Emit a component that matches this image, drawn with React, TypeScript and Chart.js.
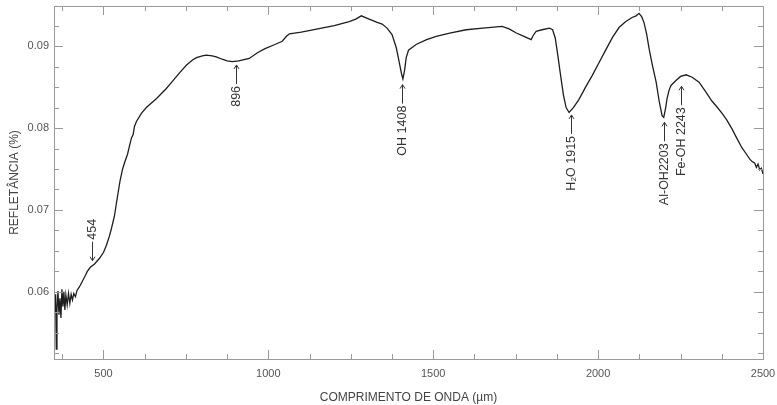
import React, { useEffect, useRef } from 'react';
import { Chart, registerables } from 'chart.js';

Chart.register(...registerables);

const wavelengths = [
  350, 353, 355, 357, 359, 362, 365, 368, 371, 374, 377, 380, 383, 386, 390, 394, 398, 402, 406, 410,
  415, 420, 427, 436, 445, 451, 460, 473, 488, 500, 509, 518, 524, 533, 540, 550, 558, 566, 573, 580,
  585, 590, 594, 600, 615, 630, 661, 690, 709, 730, 752, 770, 782, 800, 812, 830, 842, 860, 875, 891,
  910, 942, 967, 990, 1020, 1042, 1055, 1064, 1100, 1150, 1200, 1245, 1265, 1282, 1300, 1330, 1345, 1360, 1375, 1388,
  1398, 1404, 1408, 1413, 1418, 1425, 1448, 1480, 1509, 1550, 1600, 1650, 1709, 1730, 1752, 1775, 1797, 1803, 1812, 1830,
  1852, 1862, 1870, 1878, 1886, 1895, 1903, 1912, 1925, 1942, 1962, 1982, 2003, 2024, 2044, 2064, 2084, 2103, 2115, 2124,
  2132, 2139, 2147, 2155, 2165, 2176, 2185, 2194, 2199, 2205, 2209, 2215, 2221, 2236, 2250, 2267, 2285, 2306, 2325, 2345,
  2360, 2376, 2390, 2406, 2420, 2436, 2450, 2460, 2467, 2475, 2480, 2485, 2490, 2495, 2500,
];

const reflectance = [
  0.0590, 0.0575, 0.0597, 0.0530, 0.0578, 0.0601, 0.0572, 0.0592, 0.0568, 0.0603, 0.0582, 0.0600, 0.0578, 0.0596, 0.0584, 0.0598, 0.0586, 0.0597, 0.0590, 0.0598,
  0.0594, 0.0602, 0.0606, 0.0613, 0.0620, 0.0625, 0.0630, 0.0634, 0.0641, 0.0648, 0.0657, 0.0668, 0.0677, 0.0692, 0.0710, 0.0735, 0.0750, 0.0760, 0.0768, 0.0780,
  0.0788, 0.0792, 0.0802, 0.0808, 0.0818, 0.0825, 0.0836, 0.0848, 0.0857, 0.0867, 0.0877, 0.0883, 0.0886, 0.0888, 0.0889, 0.0888, 0.0887, 0.0884, 0.0882, 0.0881,
  0.0882, 0.0885, 0.0892, 0.0897, 0.0902, 0.0906, 0.0912, 0.0915, 0.0917, 0.0921, 0.0925, 0.0930, 0.0933, 0.0937, 0.0934, 0.0929, 0.0927, 0.0922, 0.0914, 0.0898,
  0.0878, 0.0866, 0.0860, 0.0870, 0.0886, 0.0895, 0.0902, 0.0908, 0.0912, 0.0916, 0.0920, 0.0922, 0.0924, 0.0921, 0.0916, 0.0912, 0.0908, 0.0913, 0.0918, 0.0920,
  0.0922, 0.0920, 0.0910, 0.0888, 0.0865, 0.0840, 0.0825, 0.0819, 0.0825, 0.0835, 0.0850, 0.0864, 0.0880, 0.0896, 0.0911, 0.0923, 0.0930, 0.0935, 0.0937, 0.0940,
  0.0936, 0.0929, 0.0915, 0.0896, 0.0876, 0.0856, 0.0833, 0.0815, 0.0813, 0.0825, 0.0836, 0.0846, 0.0852, 0.0858, 0.0863, 0.0865, 0.0862, 0.0856, 0.0845, 0.0833,
  0.0826, 0.0818, 0.0810, 0.0799, 0.0788, 0.0776, 0.0768, 0.0762, 0.0759, 0.0757, 0.0752, 0.0756, 0.0749, 0.0751, 0.0744,
];

const xMajorTicks = [500, 1000, 1500, 2000, 2500];
const xMinorTicks = [375, 625, 750, 875, 1125, 1250, 1375, 1625, 1750, 1875, 2125, 2250, 2375];
const yMajorTicks = [0.06, 0.07, 0.08, 0.09];
const yMinorTicks = [0.0525, 0.055, 0.0575, 0.0625, 0.065, 0.0675, 0.0725, 0.075, 0.0775, 0.0825, 0.085, 0.0875, 0.0925];

const annotationLabels = ['454', '896', 'OH 1408', 'H\u2082O 1915', 'Al-OH2203', 'Fe-OH 2243'];
const annotationX = [464, 903, 1406, 1918, 2200, 2252];
const annotationY = [0.0638, 0.0877, 0.0853, 0.0816, 0.0807, 0.0851];
const annotationPointsDown = [true, false, false, false, false, false];

const FONT = '"Liberation Sans", Arial, sans-serif';

const framePlugin = {
  id: 'frameTicks',
  afterDraw(chart: any) {
    const { ctx, chartArea } = chart;
    const xs = chart.scales.x;
    const ys = chart.scales.y;
    const { left, right, top, bottom } = chartArea;
    ctx.save();
    ctx.strokeStyle = '#9a9a9a';
    ctx.lineWidth = 1;
    ctx.strokeRect(left + 0.5, top + 0.5, right - left, bottom - top);
    const drawX = (v: number, len: number) => {
      const p = Math.round(xs.getPixelForValue(v)) + 0.5;
      ctx.beginPath();
      ctx.moveTo(p, bottom);
      ctx.lineTo(p, bottom - len);
      ctx.moveTo(p, top);
      ctx.lineTo(p, top + len);
      ctx.stroke();
    };
    const drawY = (v: number, len: number) => {
      const p = Math.round(ys.getPixelForValue(v)) + 0.5;
      ctx.beginPath();
      ctx.moveTo(left, p);
      ctx.lineTo(left + len, p);
      ctx.moveTo(right, p);
      ctx.lineTo(right - len, p);
      ctx.stroke();
    };
    xMajorTicks.forEach((v) => drawX(v, 9));
    xMinorTicks.forEach((v) => drawX(v, 5));
    yMajorTicks.forEach((v) => drawY(v, 9));
    yMinorTicks.forEach((v) => drawY(v, 5));
    ctx.restore();
  },
};

const annotatePlugin = {
  id: 'bandLabels',
  afterDatasetsDraw(chart: any) {
    const ctx = chart.ctx;
    const xs = chart.scales.x;
    const ys = chart.scales.y;
    ctx.save();
    ctx.font = '12.5px ' + FONT;
    ctx.fillStyle = '#333';
    ctx.strokeStyle = '#333';
    ctx.lineWidth = 1;
    annotationLabels.forEach((label, i) => {
      const px = xs.getPixelForValue(annotationX[i]);
      const py = ys.getPixelForValue(annotationY[i]);
      ctx.save();
      ctx.translate(Math.round(px) + 0.5, py);
      ctx.rotate(-Math.PI / 2);
      const L = 19;
      ctx.beginPath();
      ctx.textBaseline = 'middle';
      if (annotationPointsDown[i]) {
        ctx.moveTo(0, 0);
        ctx.lineTo(L, 0);
        ctx.moveTo(0, 0);
        ctx.lineTo(4, -2.5);
        ctx.moveTo(0, 0);
        ctx.lineTo(4, 2.5);
        ctx.stroke();
        ctx.textAlign = 'left';
        ctx.fillText(label, L + 2, 0);
      } else {
        ctx.moveTo(0, 0);
        ctx.lineTo(-L, 0);
        ctx.moveTo(0, 0);
        ctx.lineTo(-4, -2.5);
        ctx.moveTo(0, 0);
        ctx.lineTo(-4, 2.5);
        ctx.stroke();
        ctx.textAlign = 'right';
        ctx.fillText(label, -L - 2, 0);
      }
      ctx.restore();
    });
    ctx.restore();
  },
};

export default function App() {
  const canvasRef = useRef<HTMLCanvasElement | null>(null);

  useEffect(() => {
    document.body.style.margin = '0';
    const canvas = canvasRef.current;
    if (!canvas) return;
    const chart = new Chart(canvas, {
      type: 'line',
      data: {
        datasets: [
          {
            data: wavelengths.map((w, i) => ({ x: w, y: reflectance[i] })),
            borderColor: '#1e1e1e',
            borderWidth: 1.3,
            pointRadius: 0,
            tension: 0,
            fill: false,
          },
        ],
      },
      options: {
        animation: false,
        responsive: false,
        maintainAspectRatio: false,
        devicePixelRatio: 1,
        layout: { padding: { top: 6, right: 14, left: 0, bottom: 0 } },
        plugins: { legend: { display: false }, tooltip: { enabled: false } },
        scales: {
          x: {
            type: 'linear',
            min: 350,
            max: 2500,
            grid: { display: false, drawTicks: false },
            border: { display: false },
            afterBuildTicks: (scale: any) => {
              scale.ticks = xMajorTicks.map((v) => ({ value: v }));
            },
            afterFit: (scale: any) => {
              scale.height = 46;
              scale.paddingLeft = 0;
              scale.paddingRight = 0;
            },
            ticks: {
              color: '#555',
              font: { family: FONT, size: 11 },
              padding: 8,
              maxRotation: 0,
              callback: (v: any) => String(v),
            },
            title: {
              display: true,
              text: 'COMPRIMENTO DE ONDA (\u00b5m)',
              color: '#444',
              font: { family: FONT, size: 12 },
              padding: { top: 5, bottom: 0 },
            },
          },
          y: {
            type: 'linear',
            min: 0.0518,
            max: 0.0949,
            grid: { display: false, drawTicks: false },
            border: { display: false },
            afterBuildTicks: (scale: any) => {
              scale.ticks = yMajorTicks.map((v) => ({ value: v }));
            },
            afterFit: (scale: any) => {
              scale.width = 54;
              scale.paddingTop = 0;
              scale.paddingBottom = 0;
            },
            ticks: {
              color: '#555',
              font: { family: FONT, size: 11 },
              padding: 5,
              callback: (v: any) => Number(v).toFixed(2),
            },
            title: {
              display: true,
              text: 'REFLET\u00c2NCIA (%)',
              color: '#444',
              font: { family: FONT, size: 12 },
              padding: { top: 7, bottom: 0 },
            },
          },
        },
      },
      plugins: [framePlugin, annotatePlugin],
    });
    return () => chart.destroy();
  }, []);

  return (
    <div style={{ width: 777, height: 405 }}>
      <canvas ref={canvasRef} width={777} height={405} style={{ display: 'block', width: 777, height: 405 }} />
    </div>
  );
}
